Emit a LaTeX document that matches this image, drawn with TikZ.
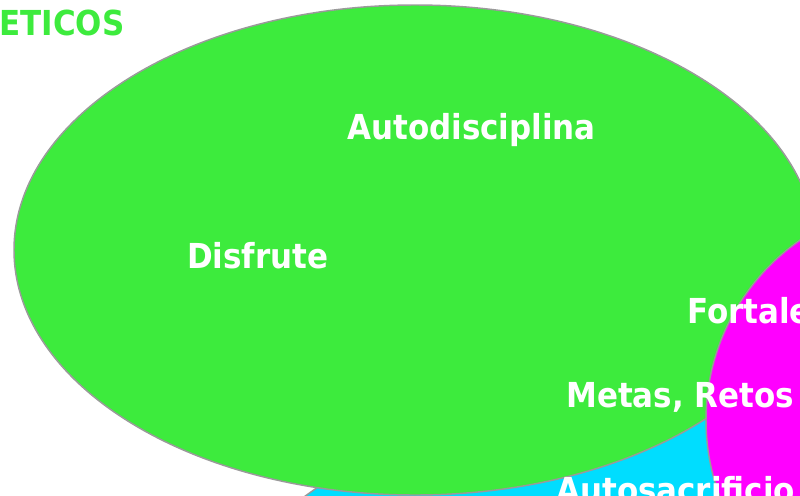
\documentclass[tikz,border=0pt]{standalone}
\usepackage{fontspec}
\setmainfont{DejaVu Sans Condensed}
\definecolor{verde}{HTML}{3DEB3D}
\definecolor{rosa}{HTML}{FF00FF}
\definecolor{celeste}{HTML}{00DDFF}
\definecolor{borde}{HTML}{9A9A9A}
\tikzset{
  lbl/.style={anchor=base west, inner sep=0pt, text=white, font=\fontsize{25.8}{30}\selectfont\bfseries},
  zona/.style={draw=borde, line width=1.1pt}
}
\begin{document}
\begin{tikzpicture}[x=0.75pt,y=-0.75pt,line join=round,line cap=round]
\def \W{800};
\def \H{496};
\useasboundingbox (0,0) rectangle (\W,\H);
\clip (0,0) rectangle (\W,\H);
\fill[white] (0,0) rectangle (\W,\H);
% regiones
\filldraw[zona,fill=celeste] (600,900) circle (375pt);
\filldraw[zona,fill=verde] (415,250) ellipse (300.75pt and 183.75pt);
\filldraw[zona,fill=rosa] (925,420) circle (164.25pt);
% textos
\node[lbl,text=verde] (eticos) at (-1,35) {ETICOS};
\node[lbl] (autodisciplina) at (347,139) {Autodisciplina};
\node[lbl] (disfrute) at (187,268) {Disfrute};
\node[lbl] (fortaleza) at (687,323) {Fortale};
\node[lbl] (metas) at (566,407) {Metas, Retos};
\node[lbl] (autosacrificio) at (556,502) {Autosacrificio};
\end{tikzpicture}
\end{document}
